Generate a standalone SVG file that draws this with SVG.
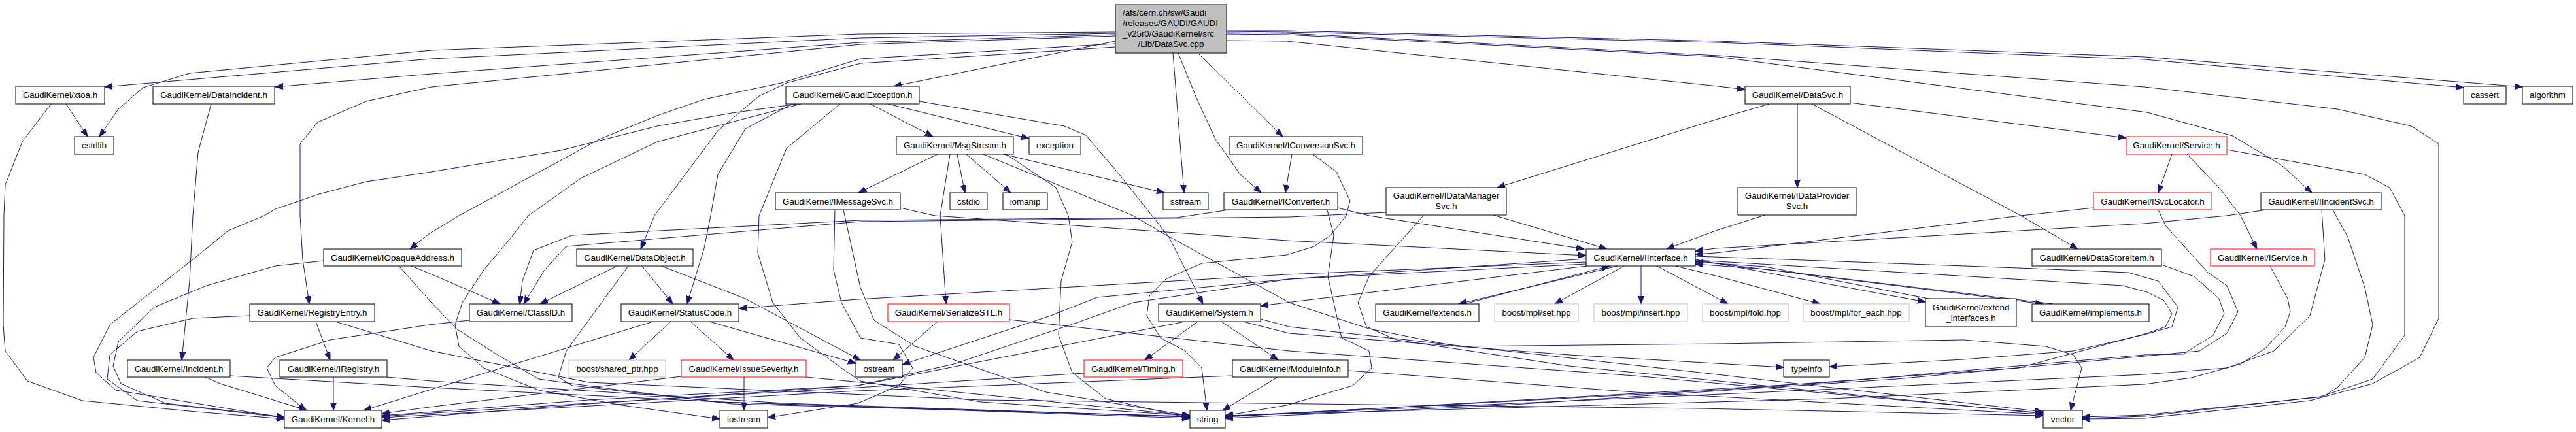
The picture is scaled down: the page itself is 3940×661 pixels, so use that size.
<svg xmlns="http://www.w3.org/2000/svg" width="3940" height="661" viewBox="0 0 3940 661">
<style>
rect{fill:#fff;stroke:#000;stroke-width:1}
.red rect{stroke:#ff0000}
.gry rect{stroke:#bfbfbf}
.root rect{fill:#bfbfbf}
text{font-family:"Liberation Sans",Arial,Helvetica,sans-serif;font-size:13.33px;fill:#000;text-anchor:middle}
text.l{text-anchor:start}
#edges path{fill:none;stroke:#191970;stroke-width:1;stroke-linejoin:round;marker-end:url(#a)}
</style>
<defs>
<marker id="a" markerWidth="13" markerHeight="10" refX="12" refY="4.5" orient="auto" markerUnits="userSpaceOnUse"><path d="M0,0 L12,4.5 L0,9 z" fill="#191970" stroke="#191970" stroke-width="1"/></marker>
</defs>
<rect x="0" y="0" width="3940" height="661" style="fill:#fff;stroke:none"/>
<g id="edges">
<path d="M1706,49 L1316,52 L660,77 L290,112 L219,134 L181,167 L152,209"/>
<path d="M1706,51 L1316,58 L660,90 L160,133"/>
<path d="M1706,53 L1316,65 L660,113 L421,133"/>
<path d="M1706,55 L1316,68 L660,133 L560,155 L486,187 L459,220 L459,330 L463,397 L473,465"/>
<path d="M1706,63 L1367,132"/>
<path d="M1706,67 L1316,90 L1195,127 L1077,152 L1005,177 L917,213 L702,330 L656,358 L627,381"/>
<path d="M1706,72 L1316,97 L1203,127 L1161,147 L1098,200 L1001,330 L980,381"/>
<path d="M1794,81 L1811,295"/>
<path d="M1802,81 L1830,150 L1859,213 L1897,267 L1929,295"/>
<path d="M1832,81 L1962,209"/>
<path d="M1876,62 L1968,63 L2628,132 L2669,137"/>
<path d="M1876,52 L1968,53 L2628,87 L3284,172 L3415,208 L3490,253 L3536,295"/>
<path d="M1876,50 L1968,51 L2628,85 L3280,133 L3575,167 L3688,193 L3730,220 L3730,487 L3701,547 L3629,587 L3533,613 L3280,640 L3185,641"/>
<path d="M1876,48 L1968,49 L2628,65 L3280,91 L3768,134"/>
<path d="M1876,47 L1968,47 L2628,63 L3280,87 L3858,133"/>
<path d="M101,159 L134,209"/>
<path d="M78,159 L34,217 L8,283 L6,330 L5,497 L8,537 L42,583 L126,613 L300,630 L435,641"/>
<path d="M323,159 L303,233 L295,330 L290,430 L278,551"/>
<path d="M314,577 L337,587 L470,628"/>
<path d="M352,575 L660,593 L1100,615 L1820,640"/>
<path d="M382,483 L295,487 L210,507 L168,543 L164,580 L210,613 L435,639"/>
<path d="M483,492 L505,551"/>
<path d="M513,492 L660,537 L900,585 L1500,612 L2600,625 L3125,636"/>
<path d="M510,577 L510,628"/>
<path d="M592,577 L660,583 L1200,617 L1820,638"/>
<path d="M495,399 L421,407 L316,437 L236,470 L181,523 L173,560 L185,587 L253,617 L435,638"/>
<path d="M629,407 L656,418 L765,465"/>
<path d="M610,407 L660,463 L698,503 L761,543 L824,580 L934,595 L1120,618 L1820,637"/>
<path d="M1220,159 L1119,173 L1005,193 L858,230 L660,263 L560,278 L488,297 L421,320 L404,330 L349,353 L295,397 L253,430 L168,497 L143,547 L147,570 L177,597 L421,637 L435,640"/>
<path d="M1212,159 L1140,197 L1098,267 L1087,330 L1077,380 L1051,465"/>
<path d="M1225,159 L1005,217 L888,273 L808,330 L782,363 L740,413 L707,463 L696,497 L702,530 L740,563 L824,597 L951,620 L1101,641"/>
<path d="M1285,159 L1203,227 L1161,330 L1159,387 L1182,463 L1224,517 L1287,563 L1316,583 L1500,615 L1820,636"/>
<path d="M1331,159 L1427,209"/>
<path d="M1358,159 L1574,212"/>
<path d="M1406,155 L1628,193 L1661,207 L1712,267 L1762,330 L1788,363 L1840,465"/>
<path d="M1434,236 L1313,295"/>
<path d="M1453,236 L1438,330 L1447,465"/>
<path d="M1464,236 L1476,295"/>
<path d="M1478,236 L1546,295"/>
<path d="M1539,236 L1615,287 L1634,330 L1640,370 L1623,430 L1619,513 L1640,570 L1691,610 L1820,640"/>
<path d="M1504,236 L1733,330 L1779,357 L1972,463 L2094,503 L2229,530 L2628,526 L3003,520 L3129,530 L3171,543 L3184,563 L3167,628"/>
<path d="M1535,236 L1781,295"/>
<path d="M1377,318 L1430,330 L1968,368 L2426,391"/>
<path d="M1277,321 L1275,413 L1287,463 L1316,517 L1375,527 L1396,563 L1375,590 L1312,617 L1174,639"/>
<path d="M1290,321 L1316,440 L1337,490 L1400,530 L1600,600 L1820,636"/>
<path d="M1434,492 L1366,551"/>
<path d="M1544,489 L1972,537 L2500,575 L3125,632"/>
<path d="M944,407 L826,465"/>
<path d="M982,407 L1029,465"/>
<path d="M961,407 L866,537 L854,577 L875,590 L1100,615 L1820,638"/>
<path d="M1012,407 L1140,457 L1316,551"/>
<path d="M718,490 L656,497 L505,520 L421,547 L408,563 L421,590 L468,628"/>
<path d="M999,492 L656,597 L556,628"/>
<path d="M1026,492 L962,551"/>
<path d="M1056,492 L1122,551"/>
<path d="M1085,492 L1309,556"/>
<path d="M1138,577 L1138,628"/>
<path d="M1042,576 L656,623 L584,633"/>
<path d="M1233,577 L1316,585 L1820,636"/>
<path d="M1813,492 L1312,590 L900,612 L584,636"/>
<path d="M1832,492 L1751,551"/>
<path d="M1868,492 L1910,520 L1955,551"/>
<path d="M1901,492 L1972,510 L2400,543 L2728,562"/>
<path d="M1928,488 L1972,500 L2600,570 L3125,630"/>
<path d="M1658,571 L1312,593 L900,617 L584,637"/>
<path d="M1954,577 L1870,628"/>
<path d="M1885,575 L1312,598 L584,639"/>
<path d="M2062,567 L2500,600 L3125,634"/>
<path d="M1976,236 L1966,295"/>
<path d="M2008,236 L2044,263 L2065,307 L2059,330 L2035,360 L2010,377 L1968,390 L1838,403 L1783,427 L1758,453 L1754,483 L1775,517 L1813,537 L1838,563 L1846,628"/>
<path d="M2046,318 L2094,330 L2423,381"/>
<path d="M1880,321 L1800,333 L1316,337 L875,360 L816,383 L799,430 L795,465"/>
<path d="M2030,321 L2040,360 L2031,423 L2052,517 L2094,537 L2098,563 L2069,590 L1968,620 L1874,636"/>
<path d="M2120,325 L1972,332 L1316,339 L866,377 L833,413 L801,465"/>
<path d="M2284,329 L2458,381"/>
<path d="M2178,329 L2094,423 L2077,463 L2090,500 L2136,520 L2400,560 L3125,633"/>
<path d="M2706,159 L2624,183 L2290,287"/>
<path d="M2749,159 L2749,287"/>
<path d="M2771,159 L3091,330 L3178,381"/>
<path d="M2829,157 L3252,211"/>
<path d="M2700,329 L2687,333 L2624,353 L2549,381"/>
<path d="M2474,407 L2231,465"/>
<path d="M2240,465 L2462,407"/>
<path d="M2484,407 L2378,465"/>
<path d="M2510,407 L2510,465"/>
<path d="M2534,407 L2628,457 L2643,465"/>
<path d="M2563,407 L2628,423 L2784,465"/>
<path d="M2593,397 L2945,462"/>
<path d="M2950,457 L2700,408 L2593,401"/>
<path d="M2593,399 L3125,465"/>
<path d="M3140,465 L2700,412 L2593,404"/>
<path d="M2427,407 L1968,463 L1928,468"/>
<path d="M2426,401 L1968,420 L1312,458 L1130,472"/>
<path d="M2426,404 L1972,427 L1733,463 L1649,493 L1459,557 L1312,590 L900,618 L584,643"/>
<path d="M2426,396 L1972,427 L1678,455 L1607,483 L1380,558"/>
<path d="M2593,392 L3087,410 L3255,417 L3301,430 L3331,470 L3322,500 L3280,512 L3171,537 L3003,550 L2798,561"/>
<path d="M2593,398 L3247,437 L3284,447 L3310,460 L3322,480 L3312,500 L3284,510 L3087,563 L2624,597 L2200,620 L1874,637"/>
<path d="M3202,318 L3091,330 L2624,387 L2593,389"/>
<path d="M3301,321 L3312,345 L3377,417 L3406,437 L3423,477 L3406,510 L3364,537 L3280,545 L2900,580 L2300,620 L1874,640"/>
<path d="M3467,321 L3406,330 L3280,342 L2624,380 L2593,384"/>
<path d="M3551,321 L3556,397 L3533,483 L3478,537 L3406,563 L3280,573 L2700,600 L1874,637"/>
<path d="M3568,321 L3591,363 L3617,440 L3629,497 L3617,547 L3575,593 L3553,607 L3280,635 L3185,638"/>
<path d="M3322,236 L3301,295"/>
<path d="M3345,236 L3394,287 L3427,330 L3452,381"/>
<path d="M3406,229 L3617,267 L3655,287 L3678,330 L3678,513 L3629,580 L3549,607 L3280,637 L3185,640"/>
<path d="M3472,407 L3499,457 L3503,477 L3495,500 L3465,533 L3427,557 L3352,578 L3280,588 L2800,610 L1874,636"/>
<path d="M3306,405 L3356,423 L3394,457 L3402,480 L3385,513 L3339,542 L3280,543 L2800,585 L1874,638"/>
</g>
<g id="n_root" class="root"><rect x="1706" y="7" width="170" height="74"/><text class="l" x="1717" y="24">/afs/cern.ch/sw/Gaudi</text><text class="l" x="1717" y="40">/releases/GAUDI/GAUDI</text><text class="l" x="1717" y="56">_v25r0/GaudiKernel/src</text><text x="1791" y="72">/Lib/DataSvc.cpp</text></g>
<g id="n_xtoa"><rect x="24" y="132" width="136" height="27"/><text x="92" y="150">GaudiKernel/xtoa.h</text></g>
<g id="n_cstdlib"><rect x="114" y="209" width="60" height="27"/><text x="144" y="227">cstdlib</text></g>
<g id="n_DataIncident"><rect x="234" y="132" width="186" height="27"/><text x="327" y="150">GaudiKernel/DataIncident.h</text></g>
<g id="n_GaudiException"><rect x="1202" y="132" width="204" height="27"/><text x="1304" y="150">GaudiKernel/GaudiException.h</text></g>
<g id="n_MsgStream"><rect x="1371" y="209" width="179" height="27"/><text x="1460.5" y="227">GaudiKernel/MsgStream.h</text></g>
<g id="n_exception"><rect x="1574" y="209" width="79" height="27"/><text x="1613.5" y="227">exception</text></g>
<g id="n_IMessageSvc"><rect x="1186" y="295" width="191" height="26"/><text x="1281.5" y="312.5">GaudiKernel/IMessageSvc.h</text></g>
<g id="n_cstdio"><rect x="1453" y="295" width="57" height="26"/><text x="1481.5" y="312.5">cstdio</text></g>
<g id="n_iomanip"><rect x="1534" y="295" width="68" height="26"/><text x="1568" y="312.5">iomanip</text></g>
<g id="n_sstream"><rect x="1779" y="295" width="69" height="26"/><text x="1813.5" y="312.5">sstream</text></g>
<g id="n_IConversionSvc"><rect x="1880" y="209" width="204" height="27"/><text x="1982" y="227">GaudiKernel/IConversionSvc.h</text></g>
<g id="n_IConverter"><rect x="1872" y="295" width="174" height="26"/><text x="1959" y="312.5">GaudiKernel/IConverter.h</text></g>
<g id="n_IDataManagerSvc"><rect x="2120" y="287" width="184" height="42"/><text x="2212" y="304">GaudiKernel/IDataManager</text><text x="2212" y="320">Svc.h</text></g>
<g id="n_DataSvc"><rect x="2669" y="132" width="161" height="27"/><text x="2749.5" y="150">GaudiKernel/DataSvc.h</text></g>
<g id="n_IDataProviderSvc"><rect x="2658" y="287" width="181" height="42"/><text x="2748.5" y="304">GaudiKernel/IDataProvider</text><text x="2748.5" y="320">Svc.h</text></g>
<g id="n_Service" class="red"><rect x="3252" y="209" width="154" height="27"/><text x="3329" y="227">GaudiKernel/Service.h</text></g>
<g id="n_ISvcLocator" class="red"><rect x="3202" y="295" width="181" height="26"/><text x="3292.5" y="312.5">GaudiKernel/ISvcLocator.h</text></g>
<g id="n_cassert"><rect x="3768" y="132" width="65" height="27"/><text x="3800.5" y="150">cassert</text></g>
<g id="n_algorithm"><rect x="3858" y="132" width="77" height="27"/><text x="3896.5" y="150">algorithm</text></g>
<g id="n_IIncidentSvc"><rect x="3458" y="295" width="184" height="26"/><text x="3550" y="312.5">GaudiKernel/IIncidentSvc.h</text></g>
<g id="n_IOpaqueAddress"><rect x="495" y="381" width="211" height="26"/><text x="600.5" y="398.5">GaudiKernel/IOpaqueAddress.h</text></g>
<g id="n_RegistryEntry"><rect x="382" y="465" width="191" height="27"/><text x="477.5" y="483">GaudiKernel/RegistryEntry.h</text></g>
<g id="n_Incident"><rect x="195" y="551" width="157" height="26"/><text x="273.5" y="568.5">GaudiKernel/Incident.h</text></g>
<g id="n_IRegistry"><rect x="428" y="551" width="164" height="26"/><text x="510" y="568.5">GaudiKernel/IRegistry.h</text></g>
<g id="n_Kernel"><rect x="435" y="628" width="149" height="27"/><text x="509.5" y="646">GaudiKernel/Kernel.h</text></g>
<g id="n_DataObject"><rect x="882" y="381" width="178" height="26"/><text x="971" y="398.5">GaudiKernel/DataObject.h</text></g>
<g id="n_ClassID"><rect x="718" y="465" width="157" height="27"/><text x="796.5" y="483">GaudiKernel/ClassID.h</text></g>
<g id="n_StatusCode"><rect x="950" y="465" width="180" height="27"/><text x="1040" y="483">GaudiKernel/StatusCode.h</text></g>
<g id="n_shared_ptr" class="gry"><rect x="870" y="551" width="148" height="26"/><text x="944" y="568.5">boost/shared_ptr.hpp</text></g>
<g id="n_IssueSeverity" class="red"><rect x="1042" y="551" width="191" height="26"/><text x="1137.5" y="568.5">GaudiKernel/IssueSeverity.h</text></g>
<g id="n_iostream"><rect x="1101" y="628" width="73" height="27"/><text x="1137.5" y="646">iostream</text></g>
<g id="n_SerializeSTL" class="red"><rect x="1358" y="465" width="186" height="27"/><text x="1451" y="483">GaudiKernel/SerializeSTL.h</text></g>
<g id="n_ostream"><rect x="1309" y="551" width="71" height="26"/><text x="1344.5" y="568.5">ostream</text></g>
<g id="n_System"><rect x="1772" y="465" width="156" height="27"/><text x="1850" y="483">GaudiKernel/System.h</text></g>
<g id="n_Timing" class="red"><rect x="1658" y="551" width="151" height="26"/><text x="1733.5" y="568.5">GaudiKernel/Timing.h</text></g>
<g id="n_ModuleInfo"><rect x="1885" y="551" width="177" height="26"/><text x="1973.5" y="568.5">GaudiKernel/ModuleInfo.h</text></g>
<g id="n_string"><rect x="1820" y="628" width="54" height="27"/><text x="1847" y="646">string</text></g>
<g id="n_IInterface"><rect x="2426" y="381" width="167" height="26"/><text x="2509.5" y="398.5">GaudiKernel/IInterface.h</text></g>
<g id="n_extends"><rect x="2104" y="465" width="158" height="27"/><text x="2183" y="483">GaudiKernel/extends.h</text></g>
<g id="n_mpl_set" class="gry"><rect x="2286" y="465" width="128" height="27"/><text x="2350" y="483">boost/mpl/set.hpp</text></g>
<g id="n_mpl_insert" class="gry"><rect x="2438" y="465" width="143" height="27"/><text x="2509.5" y="483">boost/mpl/insert.hpp</text></g>
<g id="n_mpl_fold" class="gry"><rect x="2604" y="465" width="131" height="27"/><text x="2669.5" y="483">boost/mpl/fold.hpp</text></g>
<g id="n_mpl_for_each" class="gry"><rect x="2758" y="465" width="162" height="27"/><text x="2839" y="483">boost/mpl/for_each.hpp</text></g>
<g id="n_extend_interfaces"><rect x="2945" y="457" width="139" height="43"/><text x="3014.5" y="475">GaudiKernel/extend</text><text x="3014.5" y="491">_interfaces.h</text></g>
<g id="n_implements"><rect x="3108" y="465" width="179" height="27"/><text x="3197.5" y="483">GaudiKernel/implements.h</text></g>
<g id="n_DataStoreItem"><rect x="3108" y="381" width="198" height="26"/><text x="3207" y="398.5">GaudiKernel/DataStoreItem.h</text></g>
<g id="n_typeinfo"><rect x="2728" y="551" width="70" height="26"/><text x="2763" y="568.5">typeinfo</text></g>
<g id="n_vector"><rect x="3125" y="628" width="60" height="27"/><text x="3155" y="646">vector</text></g>
<g id="n_IService" class="red"><rect x="3381" y="381" width="159" height="26"/><text x="3460.5" y="398.5">GaudiKernel/IService.h</text></g>
</svg>
